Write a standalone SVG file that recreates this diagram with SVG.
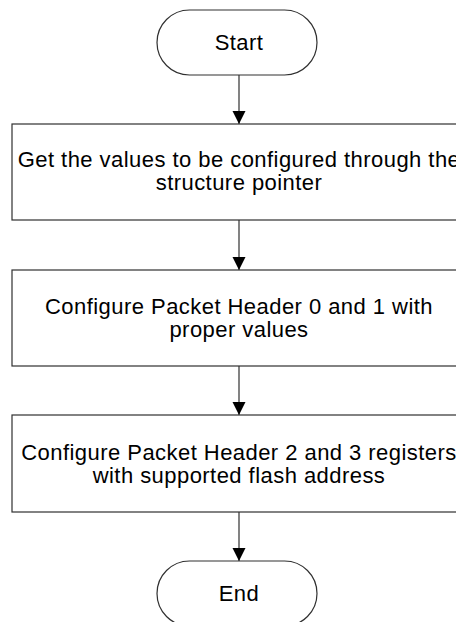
<svg xmlns="http://www.w3.org/2000/svg" width="456" height="622" viewBox="0 0 456 622">
  <style>
    .shape { fill: #ffffff; stroke: #303030; stroke-width: 1.2; }
    .label { font-family: "Liberation Sans", Arial, sans-serif; font-size: 22px; letter-spacing: 0.45px; fill: #000000; text-anchor: middle; }
    .flow { fill: none; stroke: #303030; stroke-width: 1.2; }
  </style>
  <defs>
    <marker id="arrow" markerWidth="13" markerHeight="14" refX="13" refY="6.5" orient="auto" markerUnits="userSpaceOnUse" viewBox="0 0 13 13">
      <path d="M0,0 L13,6.5 L0,13 Z" fill="#000000"/>
    </marker>
  </defs>
  <rect width="456" height="622" fill="#ffffff"/>

  <g id="connectors">
    <line class="flow" x1="239" y1="75" x2="239" y2="124" marker-end="url(#arrow)"/>
    <line class="flow" x1="239" y1="220" x2="239" y2="270" marker-end="url(#arrow)"/>
    <line class="flow" x1="239" y1="366" x2="239" y2="415" marker-end="url(#arrow)"/>
    <line class="flow" x1="239" y1="512" x2="239" y2="561" marker-end="url(#arrow)"/>
  </g>

  <g id="start">
    <rect class="shape" x="157" y="10" width="160" height="65" rx="32.5" ry="32.5"/>
    <text class="label" x="239" y="50">Start</text>
  </g>

  <g id="get-values">
    <rect class="shape" x="12" y="124" width="454" height="96"/>
    <text class="label" x="239" y="167">Get the values to be configured through the</text>
    <text class="label" x="239" y="190">structure pointer</text>
  </g>

  <g id="configure-header-0-1">
    <rect class="shape" x="12" y="270" width="454" height="96"/>
    <text class="label" x="239" y="314">Configure Packet Header 0 and 1 with</text>
    <text class="label" x="239" y="337">proper values</text>
  </g>

  <g id="configure-header-2-3">
    <rect class="shape" x="12" y="415" width="454" height="97"/>
    <text class="label" x="239" y="460">Configure Packet Header 2 and 3 registers</text>
    <text class="label" x="239" y="483">with supported flash address</text>
  </g>

  <g id="end">
    <rect class="shape" x="157" y="561" width="160" height="65" rx="32.5" ry="32.5"/>
    <text class="label" x="239" y="601">End</text>
  </g>
</svg>
